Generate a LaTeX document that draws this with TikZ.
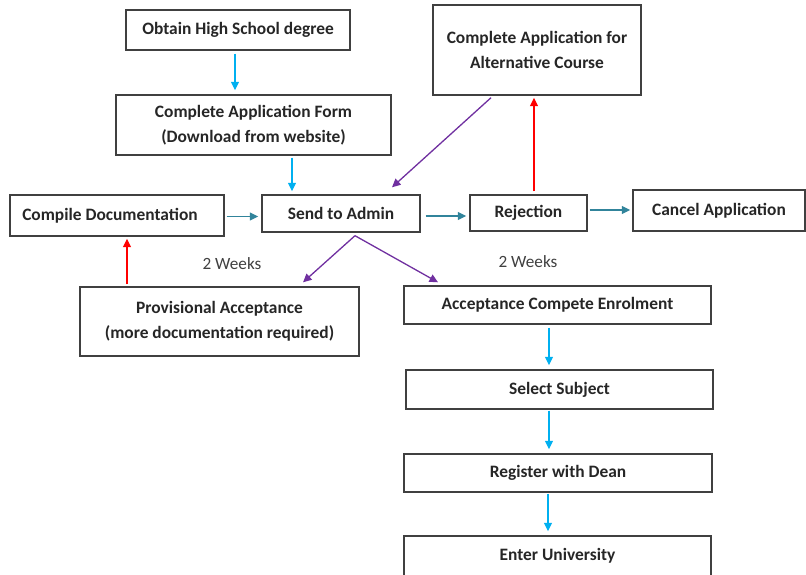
\documentclass[tikz,border=0pt]{standalone}
\usepackage{fontspec}
\setmainfont{Carlito}
\usetikzlibrary{arrows.meta}
\definecolor{cyanar}{RGB}{0,176,240}
\definecolor{tealar}{RGB}{49,132,155}
\definecolor{redar}{RGB}{255,0,0}
\definecolor{purplear}{RGB}{112,48,160}
\definecolor{boxline}{RGB}{64,64,64}
\tikzset{
  box/.style={draw=boxline, line width=1.4pt, inner sep=0pt, align=center,
    font=\fontsize{17.4}{25}\selectfont\bfseries, text=black!85},
  lbl/.style={inner sep=0pt, font=\fontsize{17.2}{20}\selectfont, text=black!75},
  arr/.style={line width=1.3pt, -{Triangle[length=8.5pt,width=8pt]}},
  cy/.style={arr, draw=cyanar},
  tl/.style={arr, draw=tealar},
  rd/.style={arr, draw=redar},
  pu/.style={arr, draw=purplear},
}
\begin{document}
\begin{tikzpicture}[x=1pt,y=-1pt]
\useasboundingbox (0,0) rectangle (806,575);
\clip (0,0) rectangle (806,575);
\node[box, minimum width=224pt, minimum height=40pt] (hs) at (238,30) {Obtain High School degree};
\node[box, minimum width=275pt, minimum height=60pt] (form) at (253.5,125) {Complete Application Form\\(Download from website)};
\node[box, minimum width=208pt, minimum height=90pt] (alt) at (537,50) {Complete Application for\\Alternative Course};
\node[box, minimum width=214pt, minimum height=41pt] (comp) at (117,215.5) {\raisebox{2pt}{\hspace*{-14pt}Compile Documentation}};
\node[box, minimum width=158pt, minimum height=37pt] (send) at (341,213.5) {Send to Admin};
\node[box, minimum width=117pt, minimum height=36pt] (rej) at (528.5,213) {Rejection};
\node[box, minimum width=172pt, minimum height=41pt] (cancel) at (719,210.5) {\raisebox{3pt}{Cancel Application}};
\node[box, minimum width=279pt, minimum height=69pt] (prov) at (219.5,321.5) {Provisional Acceptance\\(more documentation required)};
\node[box, minimum width=307pt, minimum height=38pt] (acc) at (557.5,305) {Acceptance Compete Enrolment};
\node[box, minimum width=307pt, minimum height=39pt] (sel) at (559.5,389.5) {Select Subject};
\node[box, minimum width=308pt, minimum height=38pt] (reg) at (558,473) {Register with Dean};
\node[box, minimum width=307pt, minimum height=40pt] (ent) at (557.5,556) {Enter University};
\node[lbl] (w1) at (232,264) {2 Weeks};
\node[lbl] (w2) at (528,262) {2 Weeks};
% arrows
\draw[cy] ([xshift=-3pt,yshift=-3pt]hs.south) -- ([xshift=-3pt,yshift=4pt]hs.south |- form.north);
\draw[cy] ([xshift=38.5pt,yshift=-2pt]form.south) -- ([xshift=-49pt,yshift=3pt]send.north);
\draw[tl] ([xshift=2pt,yshift=-1pt]comp.east) -- ([xshift=-3pt,yshift=-1pt]comp.east -| send.west);
\draw[tl] ([xshift=5pt,yshift=-2.5pt]send.east) -- ([xshift=-3pt,yshift=-2.5pt]send.east -| rej.west);
\draw[tl] ([xshift=2pt,yshift=3pt]rej.east) -- ([xshift=-2pt,yshift=3pt]rej.east -| cancel.west);
\draw[rd] ([xshift=5.5pt,yshift=3pt]rej.north) -- ([xshift=5.5pt,yshift=-2pt]rej.north |- alt.south);
\draw[pu] ([xshift=-46pt,yshift=-2pt]alt.south) -- ([xshift=51pt,yshift=7pt]send.north);
\coordinate (sb) at ([xshift=14pt,yshift=-3pt]send.south);
\draw[pu] (sb) -- ([xshift=83.5pt,yshift=4pt]prov.north);
\draw[pu] (sb) -- ([xshift=-119.5pt,yshift=3pt]acc.north);
\draw[rd] ([xshift=-92.5pt,yshift=2pt]prov.north) -- ([xshift=-92.5pt,yshift=-2pt]prov.north |- comp.south);
\draw[cy] ([xshift=-8.5pt,yshift=-3pt]acc.south) -- ([xshift=-8.5pt,yshift=4pt]acc.south |- sel.north);
\draw[cy] ([xshift=-10.5pt,yshift=-1pt]sel.south) -- ([xshift=-10.5pt,yshift=4pt]sel.south |- reg.north);
\draw[cy] ([xshift=-10pt,yshift=-1pt]reg.south) -- ([xshift=-10pt,yshift=4pt]reg.south |- ent.north);
\end{tikzpicture}
\end{document}
